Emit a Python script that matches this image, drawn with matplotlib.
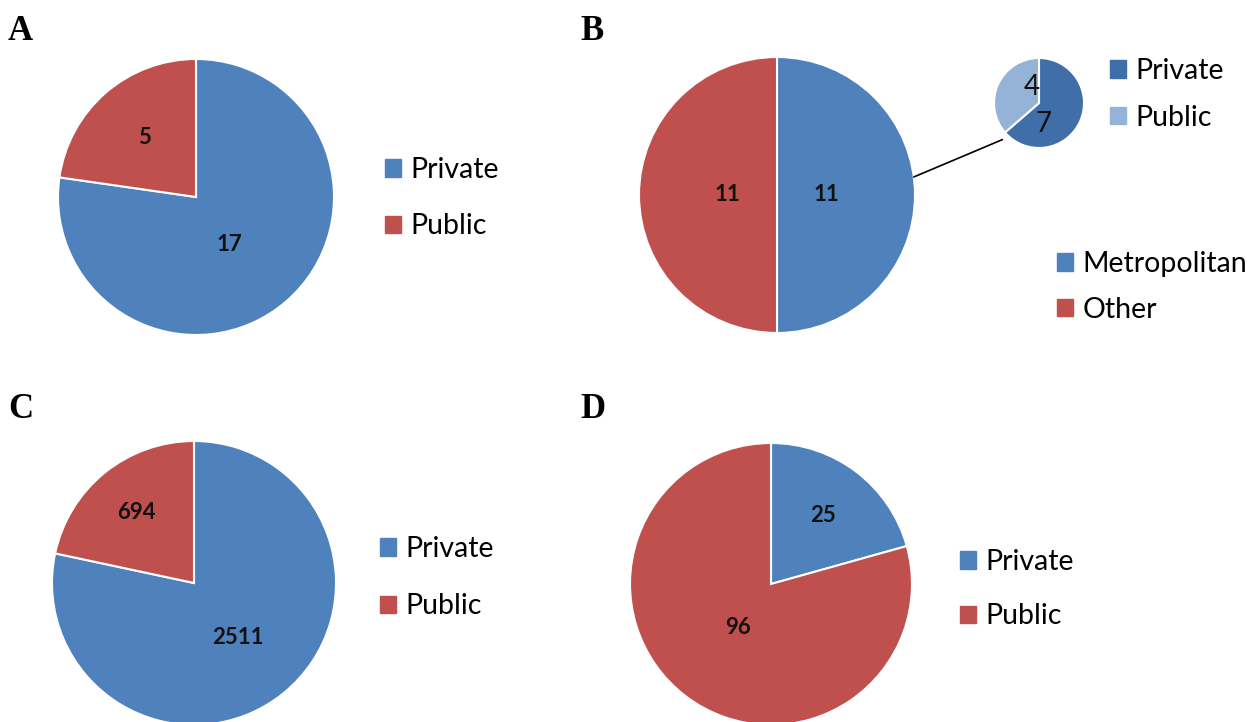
import matplotlib
matplotlib.use("Agg")
import matplotlib.pyplot as plt
from matplotlib.patches import ConnectionPatch, Patch
import numpy as np

# panel data
a_labels = ["Private", "Public"]
a_values = [17, 5]

b_labels = ["Metropolitan", "Other"]
b_values = [11, 11]
b_sub_labels = ["Private", "Public"]
b_sub_values = [7, 4]

c_labels = ["Private", "Public"]
c_values = [2511, 694]

d_labels = ["Private", "Public"]
d_values = [25, 96]

BLUE = "#4f81bd"
RED = "#c0504d"
DARK_BLUE = "#3f6ea8"
LIGHT_BLUE = "#95b3d7"

W, H = 1255, 722
fig = plt.figure(figsize=(W / 100, H / 100), dpi=100)
fig.patch.set_facecolor("white")

NUM_FONT = "Lato"


def pie_ax(cx, cy, r):
    # square axes centred at pixel (cx, cy) with radius r pixels
    ax = fig.add_axes([(cx - r) / W, 1 - (cy + r) / H, 2 * r / W, 2 * r / H])
    ax.axis("off")
    return ax


def draw_pie(ax, values, colors, dists, size=16, weight="bold", angles=None):
    wedges, _ = ax.pie(values, colors=colors, startangle=90, counterclock=False,
                       radius=1, wedgeprops=dict(edgecolor="white", linewidth=1.5))
    ax.set_xlim(-1, 1)
    ax.set_ylim(-1, 1)
    for w in wedges:
        w.set_clip_on(False)
    for i, (w, v, d) in enumerate(zip(wedges, values, dists)):
        if angles is None:
            mid = np.deg2rad((w.theta1 + w.theta2) / 2)
        else:
            mid = np.deg2rad(angles[i])
        ax.text(d * np.cos(mid), d * np.sin(mid), str(v), ha="center", va="center",
                fontsize=size, fontweight=weight, family=NUM_FONT, color="#111111")
    return wedges


def add_legend(labels, colors, x, y, spacing=1.0):
    handles = [Patch(facecolor=c, edgecolor=c) for c in colors]
    fig.legend(handles, labels, loc="upper left", bbox_to_anchor=(x / W, 1 - y / H),
               frameon=False, prop=dict(family=NUM_FONT, size=20.5),
               handlelength=0.55, handleheight=0.55, handletextpad=0.35,
               labelspacing=spacing, borderpad=0, borderaxespad=0)


def panel_letter(txt, x, y):
    fig.text(x / W, 1 - y / H, txt, fontsize=25, fontweight="bold",
             family="Liberation Serif", ha="left", va="center")


# A
ax_a = pie_ax(196, 197, 138)
draw_pie(ax_a, a_values, [BLUE, RED], [0.42, 0.57], angles=[-55, 131])
add_legend(a_labels, [BLUE, RED], 385, 157, spacing=1.06)
panel_letter("A", 8, 31)

# B
ax_b = pie_ax(777, 195, 138)
draw_pie(ax_b, b_values, [BLUE, RED], [0.36, 0.36])
add_legend(b_labels, [BLUE, RED], 1057, 251, spacing=0.7)
ax_bs = pie_ax(1039, 103, 45)
draw_pie(ax_bs, b_sub_values, [DARK_BLUE, LIGHT_BLUE], [0.48, 0.39], size=20,
         weight="normal", angles=[-79, 114])
add_legend(b_sub_labels, [DARK_BLUE, LIGHT_BLUE], 1110, 58, spacing=0.72)
ang = np.deg2rad(7.5)
ang2 = np.deg2rad(225)
con = ConnectionPatch(xyA=(np.cos(ang), np.sin(ang)), coordsA=ax_b.transData,
                      xyB=(1.15 * np.cos(ang2), 1.15 * np.sin(ang2)), coordsB=ax_bs.transData,
                      color="black", linewidth=1.2)
fig.add_artist(con)
panel_letter("B", 580, 31)

# C
ax_c = pie_ax(194, 583, 142)
draw_pie(ax_c, c_values, [BLUE, RED], [0.49, 0.64])
add_legend(c_labels, [BLUE, RED], 380, 536, spacing=1.1)
panel_letter("C", 8, 410)

# D
ax_d = pie_ax(771, 584, 141)
draw_pie(ax_d, d_values, [BLUE, RED], [0.61, 0.39])
add_legend(d_labels, [BLUE, RED], 960, 549, spacing=1.0)
panel_letter("D", 580, 410)

fig.savefig("out.png", dpi=100, facecolor="white")
